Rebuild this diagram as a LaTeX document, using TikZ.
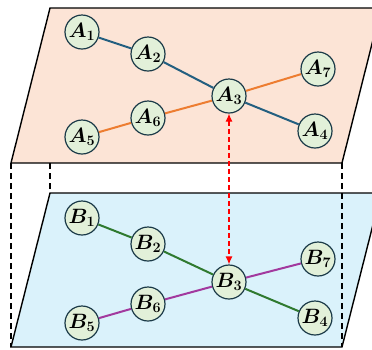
\documentclass[tikz,border=0pt]{standalone}
\usetikzlibrary{arrows.meta}
\definecolor{planeA}{HTML}{FCE4D6}
\definecolor{planeB}{HTML}{DAF2FB}
\definecolor{vtxfill}{HTML}{E2F0D9}
\definecolor{vtxline}{HTML}{1B3A48}
\definecolor{edgeblue}{HTML}{235F80}
\definecolor{edgeorange}{HTML}{ED7D31}
\definecolor{edgegreen}{HTML}{2F7A2F}
\definecolor{edgepurple}{HTML}{A2399E}
\begin{document}
\begin{tikzpicture}[x=1pt,y=-1pt,
		vtx/.style={circle,draw=vtxline,fill=vtxfill,line width=1.2pt,minimum size=34pt,inner sep=0pt,font=\huge\boldmath},
		plane/.style={draw=black,line width=1.4pt},
		hidden/.style={dash pattern=on 6pt off 4pt,line width=1.2pt},
		link/.style={line width=2pt}]
			\useasboundingbox (0,0) rectangle (372,349);
			% corners of the two planes
			\coordinate (ta) at (50,8);
			\coordinate (tb) at (381,8);
			\coordinate (tc) at (342,163);
			\coordinate (td) at (11,163);
			\coordinate (ba) at (50,193);
			\coordinate (bb) at (381,193);
			\coordinate (bc) at (342,347);
			\coordinate (bd) at (11,347);
			\coordinate (te) at (50,163);
			\draw[plane, fill=planeA] (ta) -- (tb) -- (tc) -- (td) -- cycle;
			\draw[plane, fill=planeB] (ba) -- (bb) -- (bc) -- (bd) -- cycle;
			\draw[hidden] (td) -- (bd);
			\draw[hidden] (te) -- (ba);
			\draw[hidden] (tc) -- (bc);
			% upper layer
			\node[vtx] (A1) at (82,32) {$A_1$};
			\node[vtx] (A2) at (148,54) {$A_2$};
			\node[vtx] (A3) at (229,96) {$A_3$};
			\node[vtx] (A4) at (315,131) {$A_4$};
			\node[vtx] (A5) at (82,137) {$A_5$};
			\node[vtx] (A6) at (148,118) {$A_6$};
			\node[vtx] (A7) at (318,69) {$A_7$};
			% lower layer
			\node[vtx] (B1) at (82,218) {$B_1$};
			\node[vtx] (B2) at (148,244) {$B_2$};
			\node[vtx] (B3) at (229,282) {$B_3$};
			\node[vtx] (B4) at (315,318) {$B_4$};
			\node[vtx] (B5) at (82,323) {$B_5$};
			\node[vtx] (B6) at (148,304) {$B_6$};
			\node[vtx] (B7) at (318,259) {$B_7$};
			\draw[link, edgeblue] (A1) -- (A2) -- (A3) -- (A4);
			\draw[link, edgeorange] (A5) -- (A6) -- (A3) -- (A7);
			\draw[link, edgegreen] (B1) -- (B2) -- (B3) -- (B4);
			\draw[link, edgepurple] (B5) -- (B6) -- (B3) -- (B7);
			\draw[red, line width=1.2pt, dash pattern=on 5pt off 3pt, {Latex[length=8pt,width=7pt]}-{Latex[length=8pt,width=7pt]}] (A3) -- (B3);
		\end{tikzpicture}
\end{document}
